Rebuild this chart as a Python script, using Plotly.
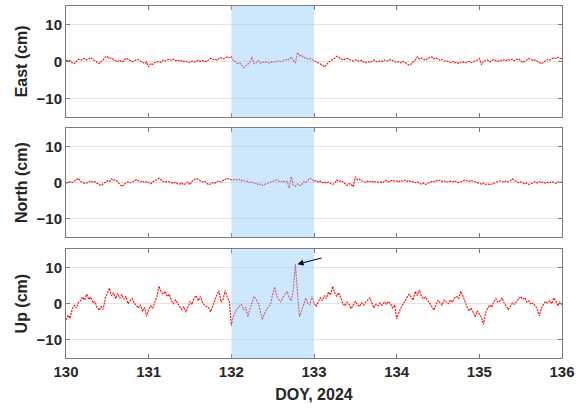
import plotly.graph_objects as go
from plotly.subplots import make_subplots

# Time axis: DOY 130..136 at 0.025-day steps
t_start = 130.0
t_step = 0.025

east_cm = [
    0.3, 0.1, 0.2, -0.4, -0.6, -0.1, 0.6, 0.3, 0.5, 0.8, 0.4, 0.6, 1.0, 0.5, 0.2, -0.2, -0.6, 0.0, 0.4, 1.2,
    1.3, 0.8, 0.9, 0.4, 0.2, -0.1, 0.3, -0.2, 0.1, 0.8, 0.6, 0.2, -0.1, 0.2, 0.3, 0.5, 0.1, -0.3, -0.6, -0.2,
    -1.5, -0.6, -0.8, -0.3, -0.1, 0.0, -0.3, 0.3, 0.1, 0.4, 0.6, 0.3, 0.6, 0.2, 0.4, 0.0, 0.2, -0.1, 0.1, -0.2,
    -0.3, 0.1, -0.2, 0.0, 0.3, 0.0, 0.2, 0.1, -0.1, 0.4, 0.8, 0.5, 0.6, 0.3, 0.8, 1.0, 0.7, 0.9, 1.2, 1.0,
    1.3, 0.2, 0.0, -0.6, -0.4, -1.0, -1.8, -1.2, -0.8, -0.3, 1.2, -0.6, -0.4, 0.2, -0.5, -0.2, -0.3, -0.1, -0.5, -0.2,
    -0.3, -0.1, 0.0, 0.1, -0.1, 0.2, 0.3, 0.6, 0.4, 1.2, 0.3, -0.4, 2.4, 1.5, 1.7, 0.9, 1.0, 0.6, 0.8, 0.5,
    0.3, 0.0, -0.2, -0.6, -1.0, -1.5, -0.8, -0.3, 0.2, 0.5, 0.8, 1.4, 1.0, 0.7, 0.4, 0.6, 0.8, 0.5, 0.3, 0.1,
    0.4, 0.2, 0.0, 0.3, -0.2, -0.4, -0.1, -0.3, 0.1, 0.4, 0.0, -0.2, 0.2, 0.0, 0.4, 0.3, 0.1, 0.5, 0.2, 0.0,
    -0.3, -0.1, -0.4, 0.0, -0.3, -0.6, -1.0, -0.7, -0.2, 0.4, 1.2, 0.6, 0.9, 0.5, 0.3, 0.8, 1.0, 1.2, 0.7, 1.0,
    0.6, 0.3, 0.5, 0.1, 0.2, -0.1, -0.3, 0.0, -0.4, -0.2, -0.6, -0.3, -0.1, -0.4, -0.2, 0.0, -0.3, -0.1, 0.1, 0.3,
    0.8, -0.9, 0.0, 0.2, 0.4, -0.1, 0.3, 0.5, 0.2, 0.0, 0.3, 0.1, 0.4, 0.2, 0.5, 0.3, 0.6, 0.2, 0.5, 0.7,
    0.2, -0.3, 0.0, 0.4, 0.8, 0.5, 0.2, 0.4, 0.1, -0.2, -0.6, -0.3, 0.2, 0.5, 0.3, 0.7, 1.0, 0.8, 1.1, 0.9,
    0.6,
]

north_cm = [
    -0.2, 0.1, 0.3, 0.0, 0.5, 0.8, 1.2, 0.4, 0.0, -0.2, -0.1, 0.2, 0.4, 0.1, 0.3, -0.2, -0.5, -0.8, -0.3, 0.0,
    0.5, 0.3, 1.0, 0.6, 0.8, 0.2, -0.4, -1.1, -0.5, -0.2, 0.2, -0.1, 0.3, 0.5, 0.8, 0.4, 0.2, 0.5, 0.0, 0.3,
    -0.1, -0.3, 0.2, 0.4, 0.8, 1.2, 0.6, 0.3, 0.1, 0.4, 0.2, 0.0, -0.2, 0.1, -0.3, -0.4, -0.1, -0.6, -0.3, 0.2,
    -0.6, 0.4, 0.8, 1.2, 0.9, 0.6, 0.2, 0.4, -0.2, -0.6, -0.3, 0.0, -0.2, 0.3, 0.5, 0.2, 0.6, 1.0, 1.2, 0.9,
    0.8, 0.7, 1.0, 0.6, 0.9, 0.5, 0.7, 0.3, 0.4, 0.0, 0.2, -0.3, -0.1, -0.6, -0.4, -0.8, -0.5, -0.3, 0.0, 0.2,
    0.3, 0.6, 0.8, 0.4, 0.2, 0.5, 0.1, 0.4, -1.5, 1.6, -0.6, -1.0, -0.3, -0.8, -0.6, 0.3, 0.0, 0.5, 1.2, 0.9,
    0.3, 0.6, 0.1, 0.4, 0.0, 0.2, -0.2, 0.1, -0.3, -0.5, -0.2, 0.7, 0.3, 0.5, 0.2, -0.4, -0.8, -0.3, -0.5, -1.1,
    1.6, 0.8, 1.0, 0.5, 0.3, 0.1, 0.4, 0.2, 0.5, 0.0, 0.3, 0.1, 0.2, -0.1, 0.3, 0.6, 0.2, 0.4, 0.7, 0.4,
    0.5, 0.2, 0.6, 0.4, 0.7, 0.3, 0.6, 0.2, 0.3, 0.0, 0.2, -0.2, -0.4, -0.1, -0.5, -0.2, 0.0, 0.3, 0.2, 0.6,
    0.4, 0.7, 0.3, 0.5, 0.1, 0.3, 0.4, 0.2, 0.5, 0.1, 0.0, 0.2, 0.4, 0.7, 0.5, 0.3, 0.6, 0.4, 0.2, 0.0,
    -0.2, -0.4, -0.1, -0.5, -0.3, -0.6, -0.4, -0.2, 0.0, 0.2, 0.5, 0.3, 0.1, 0.4, 0.2, 0.6, 1.0, 0.6, 0.3, 0.0,
    0.2, -0.2, -0.4, -0.1, -0.5, -0.3, 0.0, 0.2, -0.1, 0.3, 0.0, 0.2, -0.2, 0.1, 0.0, 0.3, 0.1, -0.2, 0.2, 0.0,
    0.2,
]

up_cm = [
    -4.5, -3.2, -4.0, -1.5, -0.5, -1.2, 0.3, 0.8, 1.8, 1.0, 2.6, 1.2, 1.8, 0.2, 0.5, -1.0, -1.8, -0.8, -1.6, 1.5,
    2.8, 4.3, 2.2, 3.0, 1.4, 2.8, 1.5, 2.5, 1.2, 2.0, 0.0, 0.8, 1.4, 0.2, -0.5, -1.2, -0.3, -2.2, -1.0, -3.5,
    -1.8, -0.6, -1.2, 0.4, 2.0, 4.8, 3.2, 2.6, 3.4, 2.0, 2.6, 0.8, 0.0, 1.0, 0.2, -0.5, -1.6, -0.8, -2.4, -1.0,
    0.6, -0.2, 1.5, 2.2, 0.8, 2.0, 0.4, -0.4, -0.8, -1.2, -2.2, -0.5, 0.8, 2.4, 3.6, 0.4, 1.2, 3.6, 1.8, 0.6,
    -6.0, -3.5, -2.2, -1.4, -0.6, -0.2, -1.8, -1.0, -3.6, -1.5, 0.4, 2.0, 1.2, 0.2, -2.0, -4.4, -2.8, -1.5, -0.8, -0.2,
    2.6, 4.6, 2.0, 1.2, 0.4, 1.8, 2.6, 3.4, 1.6, 0.8, 4.0, 11.0, 3.0, -3.6, -2.0, -0.5, 1.5, 0.2, -0.4, 2.0,
    0.2, -0.8, 0.6, 1.6, 0.8, 2.2, 1.4, 3.2, 2.4, 4.8, 3.0, 2.0, 3.0, 1.2, 0.0, -0.6, 0.4, -0.2, -1.4, -0.4,
    0.6, -0.3, -0.8, 0.2, -0.4, 0.4, 1.0, 1.6, 0.2, -1.2, -0.2, -0.6, 0.2, -0.4, 0.4, -0.2, 0.6, 0.0, -1.2, -0.4,
    -4.2, -2.4, -1.2, -0.2, 0.8, 1.6, 2.6, 1.8, 1.0, 3.4, 2.2, 3.8, 2.0, 1.4, 1.8, 0.8, 0.2, -0.8, -1.8, -0.4,
    1.0, 0.2, -0.4, 1.0, 0.6, 0.0, 1.0, 0.4, 1.6, 2.0, 1.4, 3.4, 2.2, 0.4, -0.8, -2.0, -1.2, -2.4, -3.6, -2.0,
    -2.8, -3.8, -5.7, -2.6, -1.2, -0.4, -1.0, 0.6, 1.4, 0.4, 0.8, 1.6, 0.2, -0.6, -1.6, -0.8, 0.2, -0.2, 0.6, 1.2,
    2.0, 1.2, 1.6, 0.4, 0.8, -0.2, 0.2, -0.6, -1.4, -3.4, -1.4, -0.2, 0.6, 0.2, 0.8, 0.0, 1.6, 0.8, -0.6, 0.6,
    -0.4,
]

doy = [t_start + i * t_step for i in range(len(up_cm))]

panel_titles = ["East (cm)", "North (cm)", "Up (cm)"]
series = [east_cm, north_cm, up_cm]
x_ticks = [130, 131, 132, 133, 134, 135, 136]
y_ticks = [-10, 0, 10]
shade_range = [132, 133]
arrow_tip = (132.80, 10.9)
arrow_tail = (133.11, 12.7)

FONT = "Liberation Sans, Arial, sans-serif"
AX = "#7a7a7a"
TXT = "#262626"

fig = make_subplots(rows=3, cols=1, shared_xaxes=True)
domains = [[0.6855, 1.0], [0.3438, 0.6526], [0.0, 0.3088]]

for i, (vals, title) in enumerate(zip(series, panel_titles), start=1):
    fig.add_trace(go.Scatter(x=doy, y=vals, mode="lines",
                             line=dict(color="#ff0000", width=1.1, dash="2px,1px"),
                             showlegend=False, hoverinfo="skip"), row=i, col=1)
    fig.update_yaxes(row=i, col=1, domain=domains[i - 1], range=[-15, 15],
                     tickvals=y_ticks, ticks="inside", ticklen=4, tickcolor=AX,
                     showline=True, linecolor=AX, linewidth=1, mirror="allticks",
                     showgrid=True, gridcolor="#e4e4e4", gridwidth=1, zeroline=False,
                     tickfont=dict(family=FONT, size=15, color=TXT, weight="bold"),
                     title=dict(text="<b>" + title + "</b>", standoff=4,
                                font=dict(family=FONT, size=16, color=TXT)))
    fig.update_xaxes(row=i, col=1, range=[130, 136], tickvals=x_ticks,
                     ticks="inside", ticklen=4, tickcolor=AX,
                     showline=True, linecolor=AX, linewidth=1, mirror="allticks",
                     showgrid=False, zeroline=False,
                     tickfont=dict(family=FONT, size=15, color=TXT, weight="bold"),
                     showticklabels=(i == 3))
    yref = "y domain" if i == 1 else f"y{i} domain"
    xref = "x" if i == 1 else f"x{i}"
    fig.add_shape(type="rect", xref=xref, yref=yref, x0=shade_range[0], x1=shade_range[1],
                  y0=0, y1=1, fillcolor="rgb(150,205,250)", opacity=0.48,
                  line=dict(width=0), layer="above")

fig.update_xaxes(row=3, col=1, title=dict(text="<b>DOY, 2024</b>", standoff=9,
                 font=dict(family=FONT, size=16, color=TXT)))

fig.add_annotation(x=arrow_tip[0], y=arrow_tip[1], ax=arrow_tail[0], ay=arrow_tail[1],
                   xref="x3", yref="y3", axref="x3", ayref="y3", text="",
                   showarrow=True, arrowhead=2, arrowsize=1.2, arrowwidth=1,
                   arrowcolor="#000000")

fig.update_layout(width=582, height=410, margin=dict(l=66, r=20, t=6, b=52),
                  plot_bgcolor="white", paper_bgcolor="white",
                  font=dict(family=FONT, color=TXT))

fig.write_html("out.html")
